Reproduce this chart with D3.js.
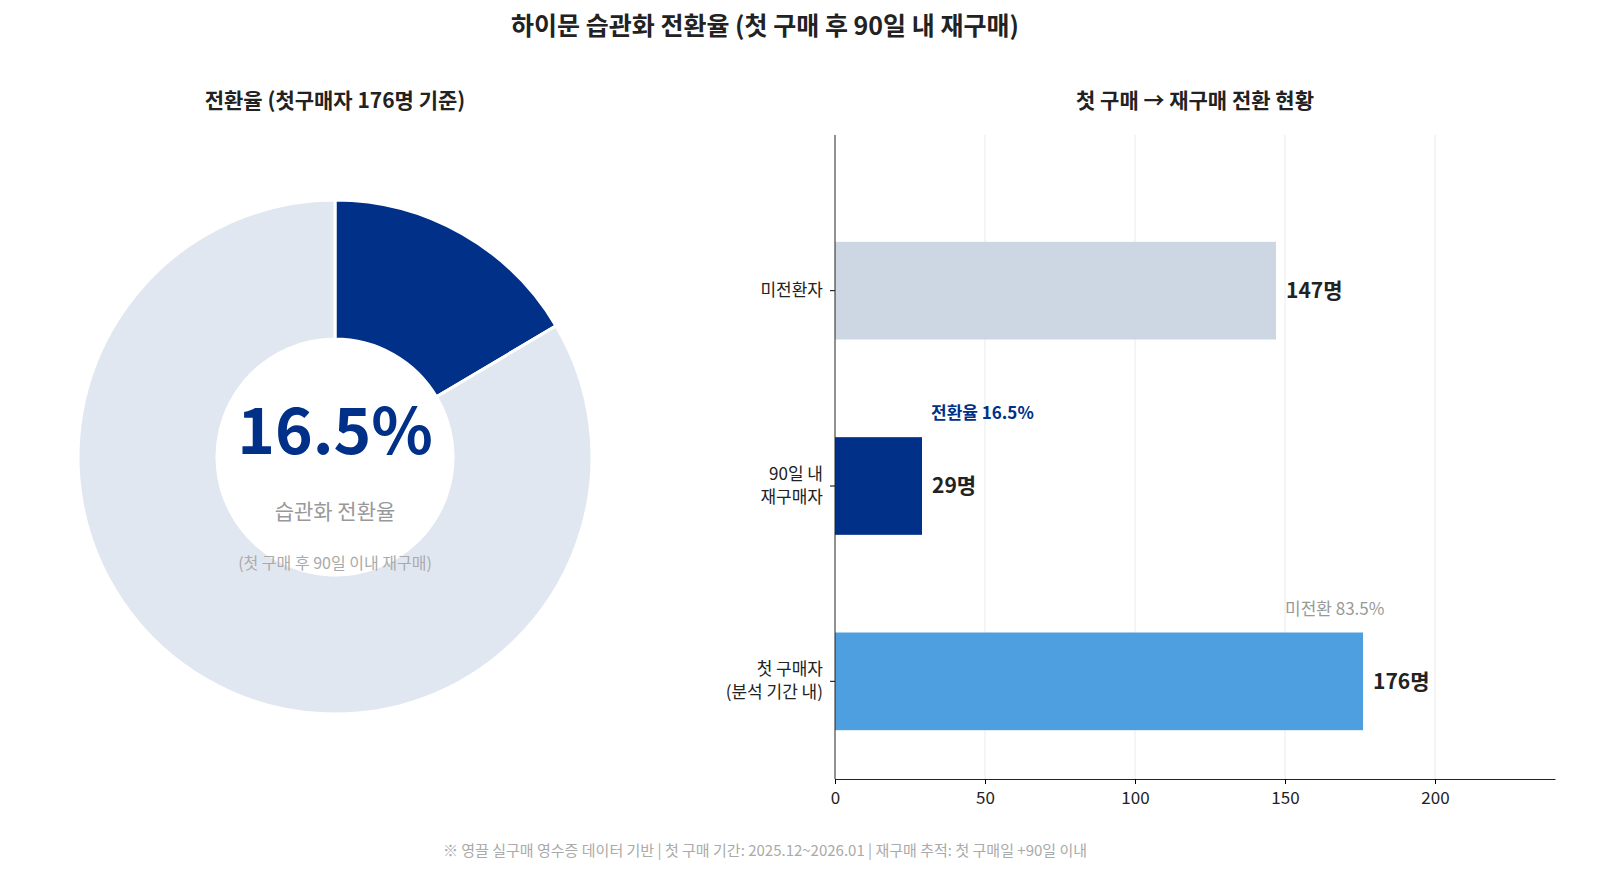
<!DOCTYPE html>
<html><head><meta charset="utf-8">
<script src="https://cdn.jsdelivr.net/npm/d3@7"></script>
<style>
  body { margin: 0; background: #fff; font-family: "Noto Sans CJK KR", "Noto Sans", sans-serif; }
</style></head>
<body>
<svg id="chart" width="1600" height="892"></svg>
<script>
  var pieLabels = ['재구매', '미전환'];
  var pieValues = [29, 147];
  var pieColors = ['#003087', '#e1e7f0'];

  var barCategories = ['미전환자', '90일 내\n재구매자', '첫 구매자\n(분석 기간 내)'];
  var barValues = [147, 29, 176];
  var barColors = ['#cdd6e3', '#003087', '#4d9fe0'];
  var xTicks = [0, 50, 100, 150, 200];

  var svg = d3.select('#chart');

  svg.append('text').attr('x', 765).attr('y', 35).attr('text-anchor', 'middle')
    .attr('font-size', 25).attr('font-weight', 700).attr('fill', '#222')
    .text('하이문 습관화 전환율 (첫 구매 후 90일 내 재구매)');

  // donut
  svg.append('text').attr('x', 335).attr('y', 108).attr('text-anchor', 'middle')
    .attr('font-size', 21).attr('font-weight', 700).attr('fill', '#222')
    .text('전환율 (첫구매자 176명 기준)');

  var g = svg.append('g').attr('transform', 'translate(335,457)');
  var pie = d3.pie().sort(null)(pieValues);
  var arc = d3.arc().innerRadius(118).outerRadius(257);
  g.selectAll('path').data(pie).enter().append('path')
    .attr('d', arc)
    .attr('fill', function (d, i) { return pieColors[i]; })
    .attr('stroke', '#fff').attr('stroke-width', 3);

  var rate = (pieValues[0] / d3.sum(pieValues) * 100).toFixed(1);
  g.append('text').attr('text-anchor', 'middle').attr('dy', '0.35em')
    .attr('y', -25).attr('font-size', 64).attr('font-weight', 700).attr('fill', '#003087')
    .text(rate + '%');
  g.append('text').attr('y', 62).attr('text-anchor', 'middle')
    .attr('font-size', 21).attr('fill', '#999').text('습관화 전환율');
  g.append('text').attr('y', 112).attr('text-anchor', 'middle')
    .attr('font-size', 16).attr('fill', '#aaa').text('(첫 구매 후 90일 이내 재구매)');

  // bars
  svg.append('text').attr('x', 1195).attr('y', 108).attr('text-anchor', 'middle')
    .attr('font-size', 21).attr('font-weight', 700).attr('fill', '#222')
    .text('첫 구매 → 재구매 전환 현황');

  var x = d3.scaleLinear().domain([0, 240]).range([835, 1555]);
  var y = d3.scaleBand().domain(barCategories).range([193, 779]).paddingInner(0.5).paddingOuter(0.25);

  svg.append('g').selectAll('line').data(xTicks.slice(1)).enter().append('line')
    .attr('x1', x).attr('x2', x).attr('y1', 135).attr('y2', 779)
    .attr('stroke', '#ebebeb');

  svg.append('g').selectAll('rect').data(barValues).enter().append('rect')
    .attr('x', x(0)).attr('y', function (d, i) { return y(barCategories[i]); })
    .attr('width', function (d) { return x(d) - x(0); })
    .attr('height', y.bandwidth())
    .attr('fill', function (d, i) { return barColors[i]; });

  svg.append('g').selectAll('text').data(barValues).enter().append('text')
    .attr('x', function (d) { return x(d) + 10; })
    .attr('y', function (d, i) { return y(barCategories[i]) + y.bandwidth() / 2; })
    .attr('dy', '0.35em').attr('font-size', 21).attr('font-weight', 700).attr('fill', '#222')
    .text(function (d) { return d + '명'; });

  var xAxis = svg.append('g').attr('transform', 'translate(0,779)')
    .call(d3.axisBottom(x).tickValues(xTicks).tickSize(5).tickSizeOuter(0));
  xAxis.selectAll('text').attr('font-size', 17).attr('fill', '#222')
    .attr('font-family', '"Noto Sans CJK KR", sans-serif').attr('dy', '1em');
  xAxis.select('.domain').attr('stroke', '#222');

  var yAxis = svg.append('g').attr('transform', 'translate(835,0)')
    .call(d3.axisLeft(y).tickSize(5).tickSizeOuter(0));
  yAxis.select('.domain').remove();
  yAxis.append('line').attr('y1', 135).attr('y2', 779).attr('stroke', '#222');
  yAxis.selectAll('.tick text').each(function (d) {
    var t = d3.select(this).text('');
    var lines = d.split('\n');
    lines.forEach(function (l, k) {
      t.append('tspan').attr('x', -12)
        .attr('dy', k === 0 ? (0.32 - (lines.length - 1) * 0.68) + 'em' : '1.36em').text(l);
    });
  }).attr('font-size', 17).attr('fill', '#222')
    .attr('font-family', '"Noto Sans CJK KR", sans-serif');

  svg.append('text').attr('x', x(32)).attr('y', y(barCategories[1]) - 18)
    .attr('font-size', 17).attr('font-weight', 700).attr('fill', '#003087')
    .text('전환율 ' + rate + '%');
  svg.append('text').attr('x', x(150)).attr('y', y(barCategories[2]) - 18)
    .attr('font-size', 17).attr('fill', '#999')
    .text('미전환 ' + (100 - rate).toFixed(1) + '%');

  svg.append('text').attr('x', 765).attr('y', 856).attr('text-anchor', 'middle')
    .attr('font-size', 15).attr('fill', '#aaa')
    .text('※ 영끌 실구매 영수증 데이터 기반 | 첫 구매 기간: 2025.12~2026.01 | 재구매 추적: 첫 구매일 +90일 이내');
</script>
</body></html>
